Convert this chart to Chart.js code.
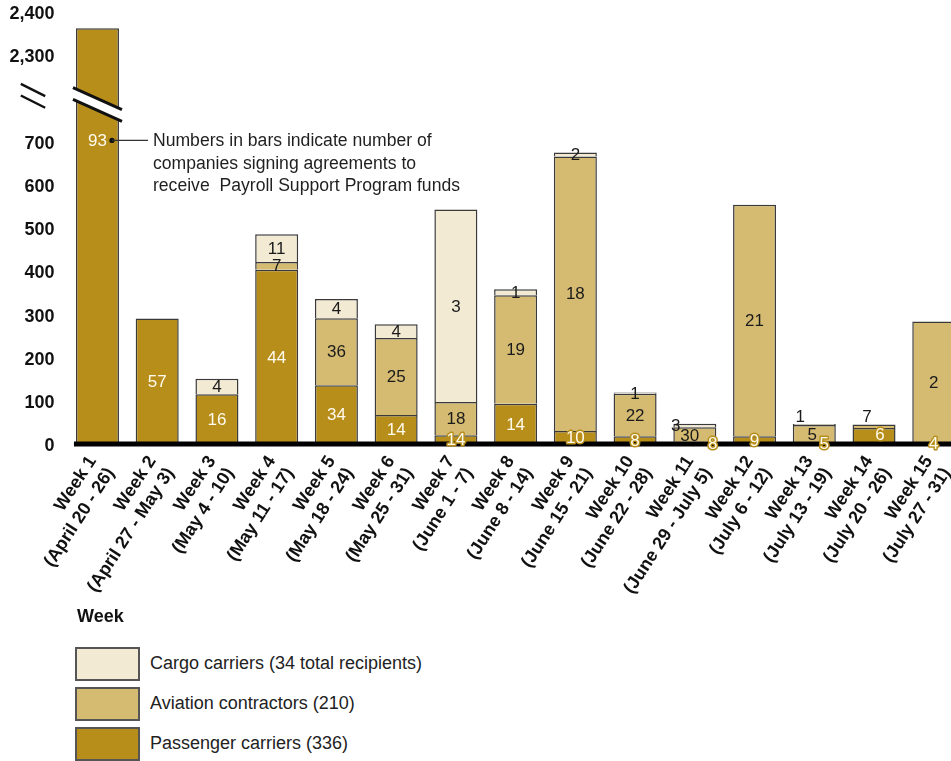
<!DOCTYPE html>
<html><head><meta charset="utf-8">
<script src="https://cdn.jsdelivr.net/npm/chart.js@4/dist/chart.umd.min.js"></script>
<style>
html,body{margin:0;padding:0;overflow:hidden;background:#fff;width:951px;height:761px;}
#wrap{position:absolute;left:0;top:0;width:970px;height:761px;}
#c{position:absolute;left:0;top:0;}
#xtitle{position:absolute;left:77px;top:606px;font:bold 18px "Liberation Sans",Arial,sans-serif;color:#111;}
#legend{position:absolute;left:75px;top:647px;font:18px "Liberation Sans",Arial,sans-serif;color:#222;}
.item{position:relative;height:40px;}
.box{position:absolute;left:0;top:0;width:61px;height:30px;border:2px solid #555;}
.txt{position:absolute;left:75px;top:6px;white-space:nowrap;}
</style>
</head><body>
<div id="wrap">
<canvas id="c" width="970" height="620"></canvas>
<div id="xtitle">Week</div>
<div id="legend"></div>
</div>
<script>
// ---- data ----
const weekLabels = [
  ["Week 1","(April 20 - 26)"],
  ["Week 2","(April 27 - May 3)"],
  ["Week 3","(May 4 - 10)"],
  ["Week 4","(May 11 - 17)"],
  ["Week 5","(May 18 - 24)"],
  ["Week 6","(May 25 - 31)"],
  ["Week 7","(June 1 - 7)"],
  ["Week 8","(June 8 - 14)"],
  ["Week 9","(June 15 - 21)"],
  ["Week 10","(June 22 - 28)"],
  ["Week 11","(June 29 - July 5)"],
  ["Week 12","(July 6 - 12)"],
  ["Week 13","(July 13 - 19)"],
  ["Week 14","(July 20 - 26)"],
  ["Week 15","(July 27 - 31)"]
];
// dollars (millions) by week
const passengerValues = [2361, 290, 115, 403, 136, 67, 20, 93, 30, 18, 5, 18, 3, 37, 3];
const aviationValues  = [null, null, null, 18, 155, 178, 77, 251, 635, 98, 34, 535, 41, 8, 280];
const cargoValues     = [null, null, 36, 64, 44, 32, 445, 14, 9, 3, 8, null, 2, null, null];
// number of companies signing agreements (numbers in bars)
const passengerCounts = [93, 57, 16, 44, 34, 14, 14, 14, 10, 8, 8, 9, 5, 6, 4];
const aviationCounts  = [null, null, null, 7, 36, 25, 18, 19, 18, 22, 30, 21, 5, 7, 2];
const cargoCounts     = [null, null, 4, 11, 4, 4, 3, 1, 2, 1, 3, null, 1, null, null];
const seriesNames = ["Passenger carriers (336)", "Aviation contractors (210)", "Cargo carriers (34 total recipients)"];
// y-axis tick labels (broken axis: 0-700, then 2,300-2,400)
const yTickLabels = ["0","100","200","300","400","500","600","700","","2,300","2,400"];
const breakGap = 1400;  // values skipped by axis break

const colors = ["#B88E1B", "#D5BB72", "#F3EAD4"];
const toDisplay = v => v == null ? null : (v > 750 ? v - breakGap : v);

const FONT = '"Liberation Sans", Arial, sans-serif';

const overlay = {
  id: 'overlay',
  afterDatasetsDraw(chart) {
    const ctx = chart.ctx, ys = chart.scales.y, ca = chart.chartArea;
    const b0 = chart.getDatasetMeta(0).data[0];
    ctx.save();
    // break through first bar
    const cx = b0.x, hw = b0.width / 2 + 3, yc = ys.getPixelForValue(785), sl = 0.45, g = 5.8;
    ctx.fillStyle = '#fff';
    ctx.beginPath();
    ctx.moveTo(cx - hw, yc - g - sl * hw);
    ctx.lineTo(cx + hw, yc - g + sl * hw);
    ctx.lineTo(cx + hw, yc + g + sl * hw);
    ctx.lineTo(cx - hw, yc + g - sl * hw);
    ctx.closePath(); ctx.fill();
    ctx.strokeStyle = '#111'; ctx.lineWidth = 3;
    ctx.beginPath();
    ctx.moveTo(cx - hw, yc - g - sl * hw); ctx.lineTo(cx + hw, yc - g + sl * hw);
    ctx.moveTo(cx - hw, yc + g - sl * hw); ctx.lineTo(cx + hw, yc + g + sl * hw);
    ctx.stroke();
    // axis break marks
    const ay = ys.getPixelForValue(805), ax = 33, aw = 12.2, s2 = 0.5;
    ctx.lineWidth = 2.4;
    ctx.beginPath();
    ctx.moveTo(ax - aw, ay - 5.8 - s2 * aw); ctx.lineTo(ax + aw, ay - 5.8 + s2 * aw);
    ctx.moveTo(ax - aw, ay + 5.8 - s2 * aw); ctx.lineTo(ax + aw, ay + 5.8 + s2 * aw);
    ctx.stroke();
    // x axis line
    const left = b0.x - b0.width / 2 - 2;
    ctx.fillStyle = '#000';
    ctx.fillRect(left, ys.getPixelForValue(0) - 2.5, ca.right - left, 5);
    // numbers in bars
    const counts = [passengerCounts, aviationCounts, cargoCounts];
    const nudge = chart.options.plugins.overlay.nudge;
    ctx.font = '17px ' + FONT;
    ctx.textAlign = 'center'; ctx.textBaseline = 'middle';
    counts.forEach((arr, di) => {
      const meta = chart.getDatasetMeta(di);
      arr.forEach((n, j) => {
        if (n == null) return;
        const el = meta.data[j];
        let yy = (el.y + el.base) / 2;
        let xx = el.x;
        if (di === 0 && passengerValues[j] > 750) yy = ys.getPixelForValue(702);
        const nd = nudge[di + ':' + j];
        if (nd) { xx += nd[0]; yy += nd[1]; }
        const t = String(n);
        if (di === 0) {
          ctx.lineJoin = 'round';
          ctx.strokeStyle = colors[0]; ctx.lineWidth = 3;
          ctx.strokeText(t, xx, yy + 1);
          ctx.fillStyle = '#FFFBEE';
        } else {
          ctx.fillStyle = '#1a1a1a';
        }
        ctx.fillText(t, xx, yy + 1);
      });
    });
    // annotation
    const ly = ys.getPixelForValue(702);
    const dx = b0.x + 14.5;
    ctx.fillStyle = '#111';
    ctx.beginPath(); ctx.arc(dx, ly, 2.6, 0, Math.PI * 2); ctx.fill();
    ctx.strokeStyle = '#333'; ctx.lineWidth = 1.3;
    ctx.beginPath(); ctx.moveTo(dx, ly); ctx.lineTo(dx + 36, ly); ctx.stroke();
    ctx.font = '17.6px ' + FONT; ctx.textAlign = 'left'; ctx.fillStyle = '#1f1f1f';
    const lines = ["Numbers in bars indicate number of", "companies signing agreements to", "receive  Payroll Support Program funds"];
    lines.forEach((l, i) => ctx.fillText(l, dx + 41, ly + 1 + i * 22.6));
    ctx.restore();
  }
};

const ds = [passengerValues, aviationValues, cargoValues].map((vals, i) => ({
  label: seriesNames[i],
  data: vals.map(toDisplay),
  backgroundColor: colors[i],
  borderColor: '#3a3a3a',
  borderWidth: 1.5,
  borderSkipped: 'bottom',
  categoryPercentage: 1,
  barPercentage: 0.72
}));

new Chart(document.getElementById('c'), {
  type: 'bar',
  data: { labels: weekLabels, datasets: ds },
  options: {
    responsive: false, animation: false, devicePixelRatio: 1,
    layout: { padding: { top: 11.5, left: 0, right: 0, bottom: 0 } },
    plugins: {
      legend: { display: false }, tooltip: { enabled: false },
      overlay: { nudge: {
        '2:10': [-19, 0], '1:10': [-5, 1], '0:10': [18, 0],
        '2:12': [-14, -8], '1:12': [-2, 0], '0:12': [10, 0],
        '1:13': [-7, -10], '0:13': [6, -2]
      } }
    },
    scales: {
      x: {
        stacked: true,
        grid: { display: false }, border: { display: false },
        ticks: { autoSkip: false, minRotation: 57, maxRotation: 57, padding: 0, labelOffset: -5, color: '#111',
          font: { family: FONT, size: 18, weight: 'bold', lineHeight: 1.2 } },
        afterFit: s => { s.height = 620 - 444; }
      },
      y: {
        stacked: true, min: 0, max: 1000,
        grid: { display: false, drawTicks: true, tickLength: 13 }, border: { display: false },
        afterFit: s => { s.width = 67.6; },
        ticks: { stepSize: 100, padding: 0, labelOffset: 2.5, color: '#111',
          font: { family: FONT, size: 18, weight: 'bold' },
          callback: (v) => yTickLabels[Math.round(v / 100)] }
      }
    }
  },
  plugins: [overlay]
});

// legend (top-down: cargo, aviation, passenger)
const lg = document.getElementById('legend');
[2, 1, 0].forEach(i => {
  const d = document.createElement('div'); d.className = 'item';
  d.innerHTML = '<div class="box" style="background:' + colors[i] + '"></div><div class="txt">' + seriesNames[i] + '</div>';
  lg.appendChild(d);
});
</script>
</body></html>
